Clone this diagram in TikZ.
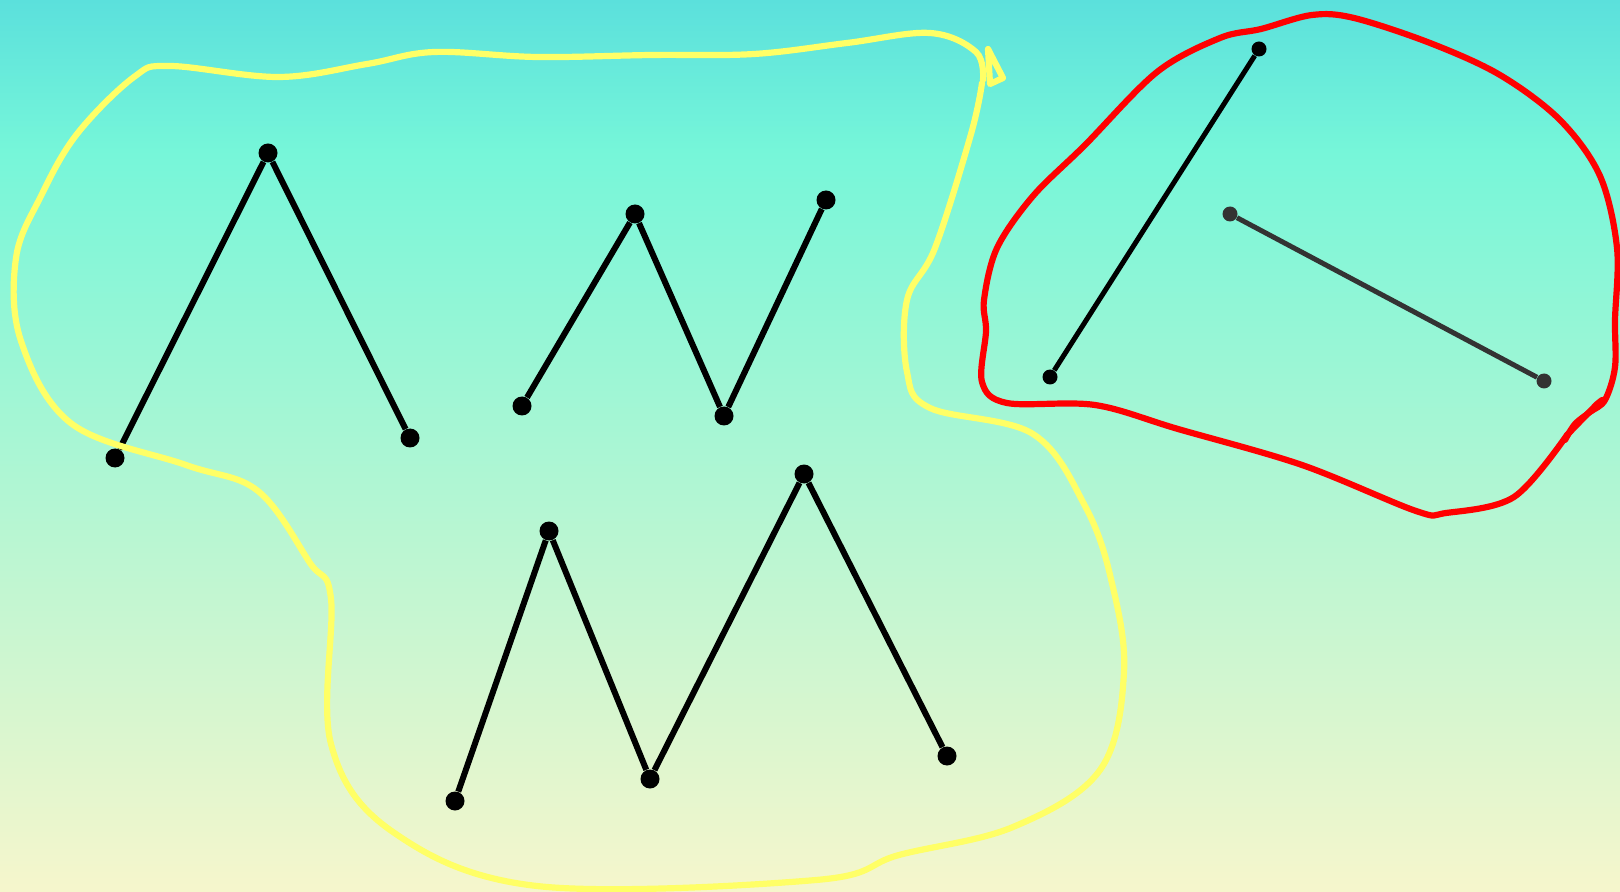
\documentclass[tikz,border=0pt]{standalone}
\definecolor{skytop}{HTML}{5BE0DC}
\definecolor{skymid}{HTML}{76F6D9}
\definecolor{skylow}{HTML}{F6F6CC}
\definecolor{loopyellow}{HTML}{FFFF66}
\definecolor{loopred}{HTML}{FF0000}
\definecolor{darkgray}{HTML}{333333}
\begin{document}
\begin{tikzpicture}[x=0.5pt, y=-0.5pt, >=stealth,
  dot/.style={circle, fill=black, inner sep=0pt, minimum size=9.5pt},
  smalldot/.style={circle, fill=black, inner sep=0pt, minimum size=7.5pt},
  zig/.style={line width=3pt, black},
  loop/.style={line width=3.1pt, line cap=round, line join=round}]
\useasboundingbox (0,0) rectangle (1620,892);
\shade[top color=skytop, bottom color=skymid] (0,0) rectangle (1620,151);
\shade[top color=skymid, bottom color=skylow] (0,150) rectangle (1620,892);
% first zigzag
\node[dot] (a1) at (115,458) {};
\node[dot] (a2) at (268,153) {};
\node[dot] (a3) at (410,438) {};
\draw[zig] (a1) -- (a2);
\draw[zig] (a2) -- (a3);
% second zigzag
\node[dot] (b1) at (522,406) {};
\node[dot] (b2) at (635,214) {};
\node[dot] (b3) at (724,416) {};
\node[dot] (b4) at (826,200) {};
\draw[zig] (b1) -- (b2);
\draw[zig] (b2) -- (b3);
\draw[zig] (b3) -- (b4);
% third zigzag
\node[dot] (c1) at (455,801) {};
\node[dot] (c2) at (549,531) {};
\node[dot] (c3) at (650,779) {};
\node[dot] (c4) at (804,474) {};
\node[dot] (c5) at (947,756) {};
\draw[zig] (c1) -- (c2);
\draw[zig] (c2) -- (c3);
\draw[zig] (c3) -- (c4);
\draw[zig] (c4) -- (c5);
% two strokes inside the red loop
\node[smalldot] (d1) at (1050,377) {};
\node[smalldot] (d2) at (1259,49) {};
\draw[line width=2.5pt, black] (d1) -- (d2);
\node[smalldot, fill=darkgray] (e1) at (1230,214) {};
\node[smalldot, fill=darkgray] (e2) at (1544,381) {};
\draw[line width=2.5pt, darkgray] (e1) -- (e2);
% yellow loop
\draw[loop, loopyellow] plot[smooth, tension=0.6] coordinates {
  (982,83) (971,134) (935,248) (907,300) (907,372) (930,408) (1033,434)
  (1085,506) (1111,579) (1124,672) (1100,770) (1013,827) (899,855)
  (816,880) (537,886) (393,832) (331,744) (331,599) (310,563) (258,491)
  (186,465) (72,424) (21,341) (16,258) (41,196) (77,134) (134,77)
  (170,66) (279,77) (367,64) (434,52) (537,57) (651,55) (754,54)
  (847,43) (930,33) (976,52) (983,80)};
\draw[loop, loopyellow] (988,49) -- (1003,78) -- (990,84) -- cycle;
% red loop
\draw[loop, loopred] plot[smooth, tension=0.55] coordinates {
  (1567,435) (1514,497) (1446,513) (1416,511) (1302,465) (1178,429)
  (1095,405) (1007,403) (982,382) (986,331) (984,300) (997,248)
  (1033,196) (1085,145) (1157,72) (1220,38) (1261,29) (1312,15) (1354,18)
  (1430,43) (1500,75) (1560,120) (1600,176) (1617,248) (1615,320)
  (1615,367) (1605,400) (1590,412) (1575,424) (1565,440)};
\draw[loop, loopred] (1567,435) -- (1597,404) -- (1602,400);
\end{tikzpicture}
\end{document}
